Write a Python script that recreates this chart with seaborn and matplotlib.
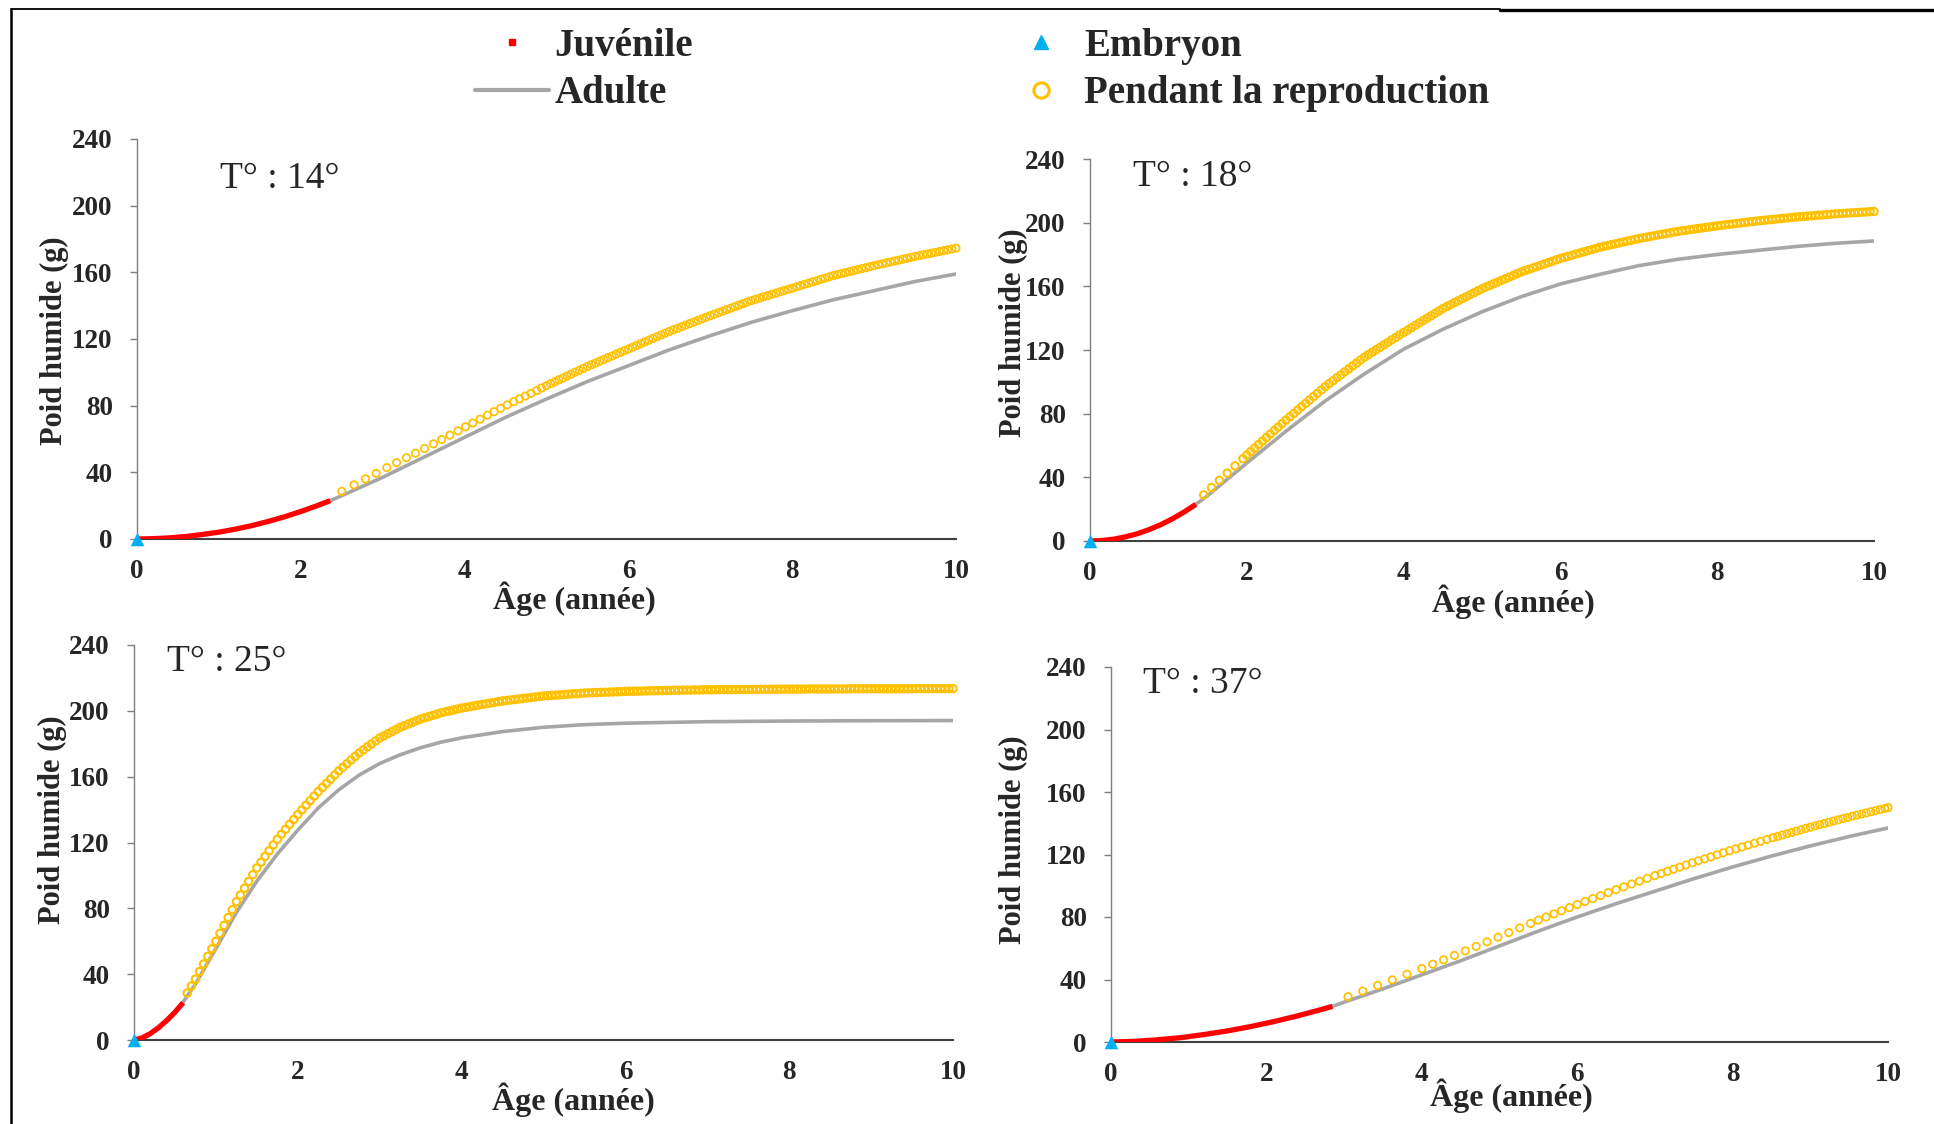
import matplotlib
matplotlib.use("Agg")
import matplotlib.pyplot as plt
from matplotlib.lines import Line2D
from matplotlib.ticker import MultipleLocator
import numpy as np
import pandas as pd
import seaborn as sns

# ---------------- data ----------------
temp_labels = ["T° : 14°", "T° : 18°", "T° : 25°", "T° : 37°"]

embryo_age = [0.0]
embryo_w = [0.0]

# --- 14 °C ---
juv_age_14 = [0.0, 0.2, 0.4, 0.6, 0.8, 1.0, 1.2, 1.4, 1.6, 1.8, 2.0, 2.2, 2.36]
juv_w_14 = [0.0, 0.2, 0.7, 1.5, 2.7, 4.1, 5.9, 8.0, 10.5, 13.3, 16.5, 20.0, 23.0]
adult_age_14 = [2.36, 2.5, 3.0, 3.5, 4.0, 4.5, 5.0, 5.5, 6.0, 6.5, 7.0, 7.5, 8.0, 8.5, 9.0, 9.5, 10.0]
adult_w_14 = [23, 26, 37, 49, 61, 73, 84, 94.5, 104, 113.5, 122, 130, 137, 143.5, 149, 154.5, 159]
repro_age_14 = [2.50, 2.65, 2.79, 2.92, 3.05, 3.17, 3.29, 3.40, 3.51, 3.62,
                3.72, 3.82, 3.92, 4.01, 4.10, 4.19, 4.28, 4.36, 4.44, 4.52,
                4.60, 4.67, 4.74, 4.81, 4.88, 4.94, 5.00,
                5.05, 5.10, 5.15, 5.20, 5.25, 5.30, 5.35, 5.40, 5.45, 5.50,
                5.55, 5.60, 5.65, 5.70, 5.75, 5.80, 5.85, 5.90, 5.95, 6.00,
                6.05, 6.10, 6.15, 6.20, 6.25, 6.30, 6.35, 6.40, 6.45, 6.50,
                6.55, 6.60, 6.65, 6.70, 6.75, 6.80, 6.85, 6.90, 6.95, 7.00,
                7.05, 7.10, 7.15, 7.20, 7.25, 7.30, 7.35, 7.40, 7.45, 7.50,
                7.55, 7.60, 7.65, 7.70, 7.75, 7.80, 7.85, 7.90, 7.95, 8.00,
                8.05, 8.10, 8.15, 8.20, 8.25, 8.30, 8.35, 8.40, 8.45, 8.50,
                8.55, 8.60, 8.65, 8.70, 8.75, 8.80, 8.85, 8.90, 8.95, 9.00,
                9.05, 9.10, 9.15, 9.20, 9.25, 9.30, 9.35, 9.40, 9.45, 9.50,
                9.55, 9.60, 9.65, 9.70, 9.75, 9.80, 9.85, 9.90, 9.95, 10.0]
repro_w_14 = [28.6, 32.5, 36.1, 39.4, 42.8, 45.8, 48.8, 51.5, 54.3, 57.1,
              59.7, 62.3, 64.9, 67.3, 69.6, 71.9, 74.3, 76.4, 78.4, 80.5,
              82.4, 84.1, 85.8, 87.4, 89.1, 90.6, 92.0,
              93.2, 94.3, 95.5, 96.6, 97.8, 98.9, 100.1, 101.2, 102.4, 103.5,
              104.6, 105.6, 106.7, 107.7, 108.8, 109.8, 110.9, 111.9, 113.0, 114.0,
              115.1, 116.1, 117.2, 118.2, 119.3, 120.3, 121.4, 122.4, 123.5, 124.5,
              125.5, 126.4, 127.4, 128.3, 129.3, 130.2, 131.2, 132.1, 133.1, 134.0,
              134.9, 135.8, 136.7, 137.6, 138.5, 139.4, 140.3, 141.2, 142.1, 143.0,
              143.8, 144.5, 145.3, 146.0, 146.8, 147.5, 148.3, 149.0, 149.8, 150.5,
              151.3, 152.0, 152.8, 153.5, 154.3, 155.0, 155.8, 156.5, 157.3, 158.0,
              158.6, 159.2, 159.8, 160.4, 161.0, 161.6, 162.2, 162.8, 163.4, 164.0,
              164.6, 165.1, 165.7, 166.2, 166.8, 167.3, 167.9, 168.4, 169.0, 169.5,
              170.0, 170.5, 171.0, 171.5, 172.0, 172.5, 173.0, 173.5, 174.0, 174.5]

# --- 18 °C ---
juv_age_18 = [0.0, 0.15, 0.3, 0.45, 0.6, 0.75, 0.9, 1.05, 1.2, 1.35]
juv_w_18 = [0.0, 0.3, 1.1, 2.6, 4.5, 7.1, 10.2, 13.9, 18.2, 23.0]
adult_age_18 = [1.35, 1.5, 2.0, 2.5, 3.0, 3.5, 4.0, 4.5, 5.0, 5.5, 6.0, 6.5, 7.0, 7.5, 8.0, 8.5, 9.0, 9.5, 10.0]
adult_w_18 = [23, 28.5, 49, 69, 88, 105, 120.5, 133, 144, 153.5, 161.5, 167.5, 173, 177, 180, 182.5, 185, 187, 188.5]
repro_age_18 = [1.45, 1.55, 1.65, 1.75, 1.85, 1.95,
                2.00, 2.05, 2.10, 2.15, 2.20, 2.25, 2.30, 2.35, 2.40, 2.45, 2.50,
                2.55, 2.60, 2.65, 2.70, 2.75, 2.80, 2.85, 2.90, 2.95, 3.00,
                3.05, 3.10, 3.15, 3.20, 3.25, 3.30, 3.35, 3.40, 3.45, 3.50,
                3.55, 3.60, 3.65, 3.70, 3.75, 3.80, 3.85, 3.90, 3.95, 4.00,
                4.05, 4.10, 4.15, 4.20, 4.25, 4.30, 4.35, 4.40, 4.45, 4.50,
                4.55, 4.60, 4.65, 4.70, 4.75, 4.80, 4.85, 4.90, 4.95, 5.00,
                5.05, 5.10, 5.15, 5.20, 5.25, 5.30, 5.35, 5.40, 5.45, 5.50,
                5.55, 5.60, 5.65, 5.70, 5.75, 5.80, 5.85, 5.90, 5.95, 6.00,
                6.05, 6.10, 6.15, 6.20, 6.25, 6.30, 6.35, 6.40, 6.45, 6.50,
                6.55, 6.60, 6.65, 6.70, 6.75, 6.80, 6.85, 6.90, 6.95, 7.00,
                7.05, 7.10, 7.15, 7.20, 7.25, 7.30, 7.35, 7.40, 7.45, 7.50,
                7.55, 7.60, 7.65, 7.70, 7.75, 7.80, 7.85, 7.90, 7.95, 8.00,
                8.05, 8.10, 8.15, 8.20, 8.25, 8.30, 8.35, 8.40, 8.45, 8.50,
                8.55, 8.60, 8.65, 8.70, 8.75, 8.80, 8.85, 8.90, 8.95, 9.00,
                9.05, 9.10, 9.15, 9.20, 9.25, 9.30, 9.35, 9.40, 9.45, 9.50,
                9.55, 9.60, 9.65, 9.70, 9.75, 9.80, 9.85, 9.90, 9.95, 10.0]
repro_w_18 = [29.0, 33.6, 38.1, 42.7, 47.2, 51.7,
              54.0, 56.2, 58.4, 60.6, 62.8, 65.0, 67.2, 69.4, 71.6, 73.8, 76.0,
              78.1, 80.2, 82.3, 84.4, 86.5, 88.6, 90.7, 92.8, 94.9, 97.0,
              98.9, 100.7, 102.6, 104.4, 106.3, 108.1, 110.0, 111.8, 113.7, 115.5,
              117.1, 118.6, 120.2, 121.7, 123.3, 124.8, 126.4, 127.9, 129.5, 131.0,
              132.5, 134.0, 135.5, 137.0, 138.5, 140.0, 141.5, 143.0, 144.5, 146.0,
              147.3, 148.5, 149.8, 151.0, 152.3, 153.5, 154.8, 156.0, 157.3, 158.5,
              159.6, 160.6, 161.7, 162.7, 163.8, 164.8, 165.9, 166.9, 168.0, 169.0,
              169.9, 170.7, 171.6, 172.4, 173.3, 174.1, 175.0, 175.8, 176.7, 177.5,
              178.2, 178.9, 179.6, 180.3, 181.0, 181.7, 182.4, 183.1, 183.8, 184.5,
              185.1, 185.6, 186.2, 186.7, 187.3, 187.8, 188.4, 188.9, 189.5, 190.0,
              190.5, 190.9, 191.4, 191.8, 192.3, 192.7, 193.2, 193.6, 194.1, 194.5,
              194.9, 195.2, 195.6, 195.9, 196.3, 196.6, 197.0, 197.3, 197.7, 198.0,
              198.3, 198.6, 198.9, 199.2, 199.5, 199.8, 200.1, 200.4, 200.7, 201.0,
              201.3, 201.5, 201.8, 202.0, 202.3, 202.5, 202.8, 203.0, 203.3, 203.5,
              203.7, 203.9, 204.1, 204.3, 204.5, 204.7, 204.9, 205.1, 205.3, 205.5,
              205.7, 205.8, 206.0, 206.1, 206.3, 206.4, 206.6, 206.7, 206.9, 207.0]

# --- 25 °C ---
juv_age_25 = [0.0, 0.1, 0.2, 0.3, 0.4, 0.5, 0.6]
juv_w_25 = [0.0, 1.3, 3.9, 7.5, 11.9, 16.9, 22.7]
adult_age_25 = [0.6, 0.75, 1.0, 1.25, 1.5, 1.75, 2.0, 2.25, 2.5, 2.75, 3.0, 3.25, 3.5, 3.75, 4.0,
                4.5, 5.0, 5.5, 6.0, 7.0, 8.0, 9.0, 10.0]
adult_w_25 = [23, 34, 55.5, 77.5, 96.5, 113, 127.5, 141, 152, 161, 168, 173.3, 177.6, 181, 183.6,
              187.4, 190, 191.6, 192.5, 193.4, 193.8, 194, 194.1]
repro_age_25 = [0.65, 0.70, 0.75, 0.80, 0.85, 0.90, 0.95, 1.00,
                1.05, 1.10, 1.15, 1.20, 1.25, 1.30, 1.35, 1.40, 1.45, 1.50,
                1.55, 1.60, 1.65, 1.70, 1.75, 1.80, 1.85, 1.90, 1.95, 2.00,
                2.05, 2.10, 2.15, 2.20, 2.25, 2.30, 2.35, 2.40, 2.45, 2.50,
                2.55, 2.60, 2.65, 2.70, 2.75, 2.80, 2.85, 2.90, 2.95, 3.00,
                3.05, 3.10, 3.15, 3.20, 3.25, 3.30, 3.35, 3.40, 3.45, 3.50,
                3.55, 3.60, 3.65, 3.70, 3.75, 3.80, 3.85, 3.90, 3.95, 4.00,
                4.05, 4.10, 4.15, 4.20, 4.25, 4.30, 4.35, 4.40, 4.45, 4.50,
                4.55, 4.60, 4.65, 4.70, 4.75, 4.80, 4.85, 4.90, 4.95, 5.00,
                5.05, 5.10, 5.15, 5.20, 5.25, 5.30, 5.35, 5.40, 5.45, 5.50,
                5.55, 5.60, 5.65, 5.70, 5.75, 5.80, 5.85, 5.90, 5.95, 6.00,
                6.05, 6.10, 6.15, 6.20, 6.25, 6.30, 6.35, 6.40, 6.45, 6.50,
                6.55, 6.60, 6.65, 6.70, 6.75, 6.80, 6.85, 6.90, 6.95, 7.00,
                7.05, 7.10, 7.15, 7.20, 7.25, 7.30, 7.35, 7.40, 7.45, 7.50,
                7.55, 7.60, 7.65, 7.70, 7.75, 7.80, 7.85, 7.90, 7.95, 8.00,
                8.05, 8.10, 8.15, 8.20, 8.25, 8.30, 8.35, 8.40, 8.45, 8.50,
                8.55, 8.60, 8.65, 8.70, 8.75, 8.80, 8.85, 8.90, 8.95, 9.00,
                9.05, 9.10, 9.15, 9.20, 9.25, 9.30, 9.35, 9.40, 9.45, 9.50,
                9.55, 9.60, 9.65, 9.70, 9.75, 9.80, 9.85, 9.90, 9.95, 10.0]
repro_w_25 = [28.5, 32.8, 37.0, 41.6, 46.2, 50.8, 55.4, 60.0,
              64.8, 69.6, 74.4, 79.2, 84.0, 88.1, 92.2, 96.3, 100.4, 104.5,
              108.0, 111.5, 115.0, 118.5, 122.0, 125.0, 128.0, 131.0, 134.0, 137.0,
              139.8, 142.6, 145.4, 148.2, 151.0, 153.5, 156.0, 158.5, 161.0, 163.5,
              165.7, 167.9, 170.1, 172.3, 174.5, 176.3, 178.1, 179.9, 181.7, 183.5,
              184.8, 186.1, 187.4, 188.7, 190.0, 191.0, 192.0, 193.0, 194.0, 195.0,
              195.8, 196.5, 197.3, 198.0, 198.8, 199.4, 199.9, 200.5, 201.1, 201.7,
              202.1, 202.6, 203.0, 203.4, 203.9, 204.3, 204.7, 205.1, 205.6, 206.0,
              206.3, 206.6, 206.9, 207.2, 207.5, 207.8, 208.1, 208.4, 208.7, 209.0,
              209.2, 209.4, 209.5, 209.7, 209.9, 210.1, 210.3, 210.4, 210.6, 210.8,
              210.9, 211.0, 211.1, 211.2, 211.3, 211.4, 211.5, 211.6, 211.7, 211.8,
              211.9, 211.9, 212.0, 212.0, 212.1, 212.2, 212.2, 212.3, 212.3, 212.4,
              212.4, 212.5, 212.5, 212.6, 212.6, 212.6, 212.7, 212.7, 212.8, 212.8,
              212.8, 212.8, 212.9, 212.9, 212.9, 212.9, 212.9, 213.0, 213.0, 213.0,
              213.0, 213.0, 213.1, 213.1, 213.1, 213.1, 213.1, 213.2, 213.2, 213.2,
              213.2, 213.2, 213.2, 213.2, 213.3, 213.3, 213.3, 213.3, 213.3, 213.3,
              213.3, 213.3, 213.3, 213.3, 213.4, 213.4, 213.4, 213.4, 213.4, 213.4,
              213.4, 213.4, 213.4, 213.4, 213.4, 213.4, 213.4, 213.4, 213.4, 213.4,
              213.5, 213.5, 213.5, 213.5, 213.5, 213.5, 213.5, 213.5, 213.5, 213.5]

# --- 37 °C ---
juv_age_37 = [0.0, 0.3, 0.6, 0.9, 1.2, 1.5, 1.8, 2.1, 2.4, 2.7, 2.85]
juv_w_37 = [0.0, 0.4, 1.4, 2.8, 4.8, 7.1, 9.9, 13.1, 16.7, 20.7, 22.8]
adult_age_37 = [2.85, 3.0, 3.5, 4.0, 4.5, 5.0, 5.5, 6.0, 6.5, 7.0, 7.5, 8.0, 8.5, 9.0, 9.5, 10.0]
adult_w_37 = [22.8, 25.5, 34, 43, 52, 61.5, 71, 80, 88.5, 96.5, 104.5, 112, 119, 125.5, 131.5, 137]
repro_age_37 = [3.05, 3.24, 3.43, 3.62, 3.81, 4.00,
                4.14, 4.28, 4.42, 4.56, 4.70, 4.84, 4.98, 5.12, 5.26, 5.40,
                5.50, 5.60, 5.70, 5.80, 5.90, 6.00, 6.10, 6.20, 6.30, 6.40, 6.50, 6.60, 6.70, 6.80, 6.90, 7.00,
                7.08, 7.16, 7.24, 7.32, 7.40, 7.48, 7.56, 7.64, 7.72, 7.80, 7.88, 7.96, 8.04, 8.12, 8.20,
                8.28, 8.36, 8.44, 8.52,
                8.58, 8.64, 8.70, 8.76, 8.82, 8.88, 8.94, 9.00, 9.06, 9.12, 9.18, 9.24, 9.30, 9.36, 9.42,
                9.48, 9.54, 9.60, 9.66, 9.72, 9.78, 9.84, 9.90, 9.96, 10.0]
repro_w_37 = [29.0, 32.6, 36.2, 39.8, 43.4, 47.0,
              49.8, 52.6, 55.4, 58.3, 61.2, 64.1, 67.1, 70.0, 73.0, 75.9,
              78.0, 80.0, 82.0, 84.0, 86.0, 88.0, 89.9, 91.8, 93.7, 95.6, 97.5, 99.3, 101.1, 102.9, 104.7, 106.5,
              107.9, 109.2, 110.6, 111.9, 113.3, 114.7, 116.0, 117.2, 118.5, 119.8, 121.1, 122.4, 123.6, 124.8,
              126.0, 127.2, 128.4, 129.6, 130.8,
              131.6, 132.5, 133.3, 134.1, 135.0, 135.8, 136.7, 137.5, 138.3, 139.1, 139.8, 140.6, 141.4, 142.2,
              143.0, 143.7, 144.5, 145.2, 145.9, 146.6, 147.4, 148.1, 148.8, 149.5, 150.0]

x_ticks = [0, 2, 4, 6, 8, 10]
y_ticks = [0, 40, 80, 120, 160, 200, 240]
legend_labels = ["Juvénile", "Adulte", "Embryon", "Pendant la reproduction"]

# ---------------- style ----------------
RED = "#FF0000"
GRAY = "#A6A6A6"
YEL = "#FFC000"
BLUE = "#00B0F0"
AXC = "#404040"

sns.set_style("white")
plt.rcParams["font.family"] = ["Liberation Serif", "DejaVu Serif"]

W, H = 1934, 1124
fig = plt.figure(figsize=(W / 100, H / 100), dpi=100)

# axes rectangles in pixels: left, right, y0 (bottom), y240 (top)
rects_px = [(137, 956, 539, 139), (1090, 1874, 541, 159),
            (134, 953, 1040, 645), (1111, 1888, 1042, 667)]
ylab_pos = [(-0.101, 0.495), (-0.097, 0.545), (-0.100, 0.557), (-0.125, 0.54)]
xlab_pos = [(0.534, -0.15), (0.54, -0.16), (0.537, -0.152), (0.515, -0.144)]
temp_pos = [(1.01, 216), (0.55, 229), (0.40, 230), (0.41, 229)]
# marker edge widths: panels with very dense sampling appear as a solid band
ring_lw = [1.25, 1.45, 1.5, 1.25]

panels = [
    (juv_age_14, juv_w_14, adult_age_14, adult_w_14, repro_age_14, repro_w_14),
    (juv_age_18, juv_w_18, adult_age_18, adult_w_18, repro_age_18, repro_w_18),
    (juv_age_25, juv_w_25, adult_age_25, adult_w_25, repro_age_25, repro_w_25),
    (juv_age_37, juv_w_37, adult_age_37, adult_w_37, repro_age_37, repro_w_37),
]

for i, (ja, jw, aa, aw, ra, rw) in enumerate(panels):
    l, r, b, t = rects_px[i]
    ax = fig.add_axes([l / W, 1 - b / H, (r - l) / W, (b - t) / H])

    sns.lineplot(x=aa, y=aw, ax=ax, color=GRAY, linewidth=2.6, sort=False,
                 estimator=None, zorder=2)
    sns.lineplot(x=ja, y=jw, ax=ax, color=RED, linewidth=3.8, sort=False,
                 estimator=None, zorder=3, solid_capstyle="butt")
    sns.scatterplot(x=ra, y=rw, ax=ax, marker="o", s=28, linewidth=ring_lw[i],
                    zorder=4, clip_on=False)
    pc = ax.collections[-1]
    pc.set_facecolor("none")
    pc.set_edgecolor(YEL)
    sns.scatterplot(x=embryo_age, y=embryo_w, ax=ax, marker="^", s=95,
                    color=BLUE, linewidth=0, zorder=5, clip_on=False)

    ax.set_xlim(0, 10)
    ax.set_ylim(0, 240)
    ax.set_xticks(x_ticks)
    ax.set_yticks(y_ticks)
    ax.xaxis.set_minor_locator(MultipleLocator(0.4))
    ax.tick_params(axis="x", which="major", direction="inout", length=11.5,
                   width=1.2, color=AXC, pad=9, labelsize=19.5)
    ax.tick_params(axis="x", which="minor", direction="out", length=5,
                   width=1.0, color=AXC)
    ax.tick_params(axis="y", which="major", direction="out", length=5,
                   width=1.0, color="#7F7F7F", pad=12.5, labelsize=19.5, left=True)
    for lab in ax.get_xticklabels() + ax.get_yticklabels():
        lab.set_fontweight("bold")

    for s in ("top", "right"):
        ax.spines[s].set_visible(False)
    ax.spines["left"].set_color("#7F7F7F")
    ax.spines["left"].set_linewidth(1.0)
    ax.spines["bottom"].set_color(AXC)
    ax.spines["bottom"].set_linewidth(1.5)

    ax.set_ylabel("Poid humide (g)", fontsize=22, fontweight="bold")
    ax.yaxis.set_label_coords(*ylab_pos[i])
    ax.yaxis.label.set_verticalalignment("center")
    ax.set_xlabel("Âge (année)", fontsize=23, fontweight="bold")
    ax.xaxis.set_label_coords(*xlab_pos[i])
    ax.xaxis.label.set_verticalalignment("center")

    ax.text(temp_pos[i][0], temp_pos[i][1], temp_labels[i], fontsize=27,
            va="center", ha="left")
    ax.set_facecolor("white")

# ---------------- legend ----------------
handles = [
    Line2D([], [], color=RED, marker="s", markersize=5, linestyle="none"),
    Line2D([], [], color=GRAY, linewidth=3),
    Line2D([], [], color=BLUE, marker="^", markersize=10, linestyle="none"),
    Line2D([], [], color=YEL, marker="o", markersize=11, markerfacecolor="none",
           markeredgewidth=2.2, linestyle="none"),
]
fig.legend(handles, legend_labels, loc="center left",
           bbox_to_anchor=(475 / W, 1 - 70 / H), ncol=2, frameon=False,
           prop={"family": "Liberation Serif", "weight": "bold", "size": 28},
           handlelength=1.9, handletextpad=0.15, columnspacing=8.0,
           labelspacing=0.28, borderpad=0, borderaxespad=0)

# ---------------- frame lines ----------------
fig.add_artist(Line2D([11 / W, 1500 / W], [1 - 9 / H, 1 - 9 / H], color="black",
                      linewidth=1.3, transform=fig.transFigure))
fig.add_artist(Line2D([1500 / W, 1.0], [1 - 10 / H, 1 - 10 / H], color="black",
                      linewidth=2.4, transform=fig.transFigure))
fig.add_artist(Line2D([11 / W, 11 / W], [1 - 9 / H, 0.0], color="black",
                      linewidth=1.8, transform=fig.transFigure))

fig.savefig("out.png", dpi=100, facecolor="white")
